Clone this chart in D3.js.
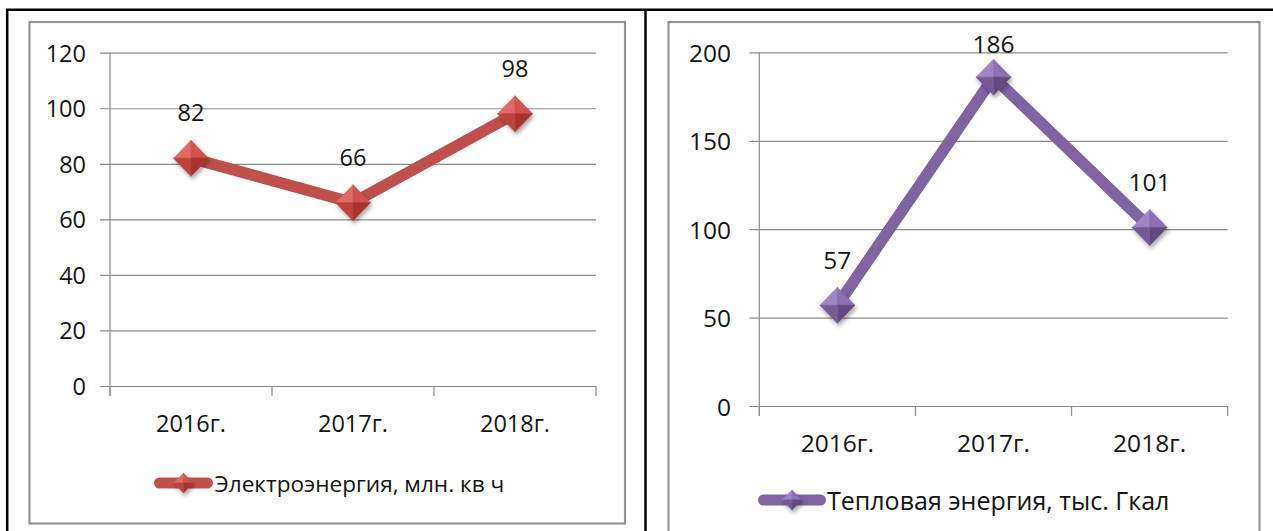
<!DOCTYPE html>
<html>
<head>
<meta charset="utf-8">
<script src="https://cdnjs.cloudflare.com/ajax/libs/d3/7.8.5/d3.min.js"></script>
<style>
  html, body { margin: 0; padding: 0; background: #fff; }
  svg { display: block; }
  text { font-family: "Open Sans", "Noto Sans", sans-serif; fill: #141414; }
</style>
</head>
<body>
<svg id="chart" width="1273" height="531"></svg>
<script>
// Categories and values
const years = ["2016г.", "2017г.", "2018г."];
const electricity = [82, 66, 98];
const heat = [57, 186, 101];
const electricityTicks = [0, 20, 40, 60, 80, 100, 120];
const heatTicks = [0, 50, 100, 150, 200];
const electricityName = "Электроэнергия, млн. кв ч";
const heatName = "Тепловая энергия, тыс. Гкал";

const svg = d3.select("#chart");
const defs = svg.append("defs");

defs.append("filter").attr("id", "markerShadow")
  .attr("x", "-50%").attr("y", "-50%").attr("width", "200%").attr("height", "200%")
  .append("feDropShadow")
  .attr("dx", 1.5).attr("dy", 3).attr("stdDeviation", 2)
  .attr("flood-color", "#000").attr("flood-opacity", 0.35);

// Outer black frame (top, left, middle divider)
const frame = svg.append("g").attr("stroke", "#000").attr("stroke-width", 2.5);
frame.append("line").attr("x1", 6).attr("x2", 1273).attr("y1", 9.8).attr("y2", 9.8);
frame.append("line").attr("x1", 7.2).attr("x2", 7.2).attr("y1", 9).attr("y2", 531);
frame.append("line").attr("x1", 645.5).attr("x2", 645.5).attr("y1", 9).attr("y2", 531);

const panels = [
  {
    values: electricity, ticks: electricityTicks, name: electricityName,
    color: "#C0504D", shades: ["#e26a66", "#d0524e", "#a9332f", "#bb423e"],
    box: [29.5, 22, 625, 523.5],
    x0: 110, x1: 596, yTop: 52.7, yBottom: 386,
    yLabelEnd: 86, xLabelDy: 37, fontSize: 23.5, legendFont: 22.6,
    legend: { x0: 154, x1: 213, y: 483, text: 214.5 }
  },
  {
    values: heat, ticks: heatTicks, name: heatName,
    color: "#8064A2", shades: ["#a084c6", "#8c6fb2", "#634884", "#765a98"],
    box: [668.5, 22, 1259.5, 545],
    x0: 759.3, x1: 1227.7, yTop: 52.4, yBottom: 406,
    yLabelEnd: 731, xLabelDy: 36, fontSize: 24.5, legendFont: 25,
    legend: { x0: 758, x1: 826, y: 500, text: 827 }
  }
];

function diamond(g, cx, cy, hw, hh, shades) {
  const m = g.append("g").attr("filter", "url(#markerShadow)");
  const faces = [
    [[cx - hw, cy], [cx, cy - hh], [cx, cy]],
    [[cx, cy - hh], [cx + hw, cy], [cx, cy]],
    [[cx + hw, cy], [cx, cy + hh], [cx, cy]],
    [[cx, cy + hh], [cx - hw, cy], [cx, cy]]
  ];
  faces.forEach((f, i) => {
    m.append("path")
      .attr("d", "M" + f.map(p => p.join(",")).join("L") + "Z")
      .attr("fill", shades[i])
      .attr("stroke", shades[i]).attr("stroke-width", 0.6)
      .attr("stroke-linejoin", "round");
  });
}

panels.forEach(p => {
  const g = svg.append("g");

  // chart-area border
  g.append("rect")
    .attr("x", p.box[0]).attr("y", p.box[1])
    .attr("width", p.box[2] - p.box[0]).attr("height", p.box[3] - p.box[1])
    .attr("fill", "none").attr("stroke", "#939393").attr("stroke-width", 2.2);

  const x = d3.scaleBand().domain(years).range([p.x0, p.x1]).padding(0);
  const yMax = p.ticks[p.ticks.length - 1];
  const y = d3.scaleLinear().domain([0, yMax]).range([p.yBottom, p.yTop]);

  // horizontal gridlines with outer tick stubs
  const yAxis = d3.axisLeft(y).tickValues(p.ticks)
    .tickSize(-(p.x1 - p.x0 + 10)).tickSizeOuter(0).tickFormat(() => "");
  const ga = g.append("g").attr("transform", `translate(${p.x0 - 10},0)`).call(yAxis);
  ga.select(".domain").remove();
  ga.selectAll(".tick line").attr("stroke", "#8c8c8c").attr("stroke-width", 1.2);

  // y tick labels
  g.append("g").selectAll("text").data(p.ticks).join("text")
    .attr("x", p.yLabelEnd).attr("y", d => y(d))
    .attr("text-anchor", "end").attr("dominant-baseline", "central")
    .attr("font-size", p.fontSize).text(d => d);

  // vertical axis line
  g.append("line")
    .attr("x1", p.x0).attr("x2", p.x0)
    .attr("y1", y(yMax)).attr("y2", p.yBottom + 10)
    .attr("stroke", "#8c8c8c").attr("stroke-width", 1.2);

  // category boundary ticks
  const bounds = years.map(d => x(d)).concat([x(years[years.length - 1]) + x.bandwidth()]);
  g.append("g").selectAll("line").data(bounds).join("line")
    .attr("x1", d => d).attr("x2", d => d)
    .attr("y1", p.yBottom).attr("y2", p.yBottom + 10)
    .attr("stroke", "#8c8c8c").attr("stroke-width", 1.2);

  // category labels
  g.append("g").selectAll("text").data(years).join("text")
    .attr("x", d => x(d) + x.bandwidth() / 2)
    .attr("y", p.yBottom + p.xLabelDy)
    .attr("text-anchor", "middle").attr("dominant-baseline", "central")
    .attr("font-size", p.fontSize).text(d => d);

  // series line
  const pts = p.values.map((v, i) => [x(years[i]) + x.bandwidth() / 2, y(v)]);
  g.append("path")
    .attr("d", d3.line()(pts))
    .attr("fill", "none").attr("stroke", p.color)
    .attr("stroke-width", 11.5).attr("stroke-linejoin", "round");

  // markers
  pts.forEach(pt => diamond(g, pt[0], pt[1], 17.5, 18, p.shades));

  // value labels, kept inside the plot area
  g.append("g").selectAll("text").data(p.values).join("text")
    .attr("x", (d, i) => pts[i][0])
    .attr("y", (d, i) => Math.max(pts[i][1] - 46, p.yTop - 9))
    .attr("text-anchor", "middle").attr("dominant-baseline", "central")
    .attr("font-size", p.fontSize).text(d => d);

  // legend
  const L = p.legend;
  g.append("line")
    .attr("x1", L.x0 + 5.5).attr("x2", L.x1 - 5.5).attr("y1", L.y).attr("y2", L.y)
    .attr("stroke", p.color).attr("stroke-width", 11).attr("stroke-linecap", "round");
  diamond(g, (L.x0 + L.x1) / 2, L.y, 9.5, 10, p.shades);
  g.append("text")
    .attr("x", L.text).attr("y", L.y)
    .attr("dominant-baseline", "central")
    .attr("font-size", p.legendFont).text(p.name);
});
</script>
</body>
</html>
